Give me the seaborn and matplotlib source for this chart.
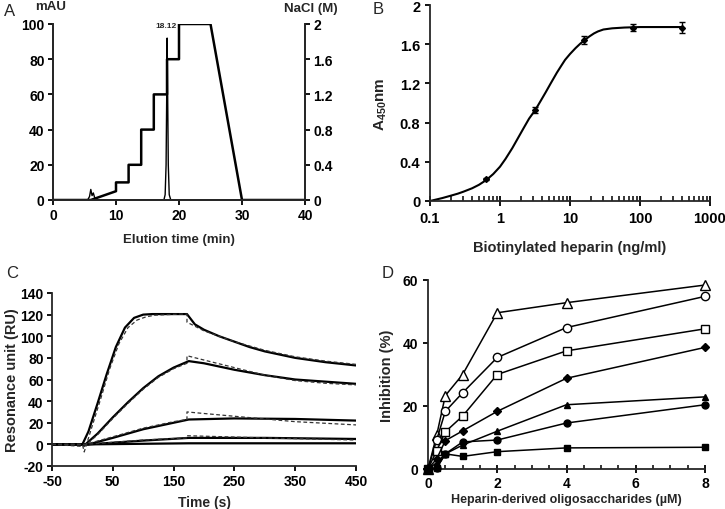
import matplotlib
matplotlib.use("Agg")
import matplotlib.pyplot as plt
import matplotlib.ticker as mticker
import numpy as np
import pandas as pd
import seaborn as sns

# ---------------- data ----------------
# A - heparin affinity chromatography
elution_time = [0, 5.5, 5.8, 6.0, 6.2, 6.4, 6.6, 6.9, 7.3, 17.6, 17.8, 17.95, 18.05, 18.12, 18.2, 18.3, 18.45, 18.7, 40]
absorbance = [0, 0, 2, 6, 2.5, 4, 1.5, 0.5, 0, 0, 3, 20, 60, 92, 60, 20, 3, 0, 0]
gradient_time = [0, 6, 10, 10, 12, 12, 14, 14, 16, 16, 18.1, 18.1, 20, 20, 25, 30, 40]
nacl_conc = [0, 0, 0.1, 0.2, 0.2, 0.4, 0.4, 0.8, 0.8, 1.2, 1.2, 1.6, 1.6, 2.0, 2.0, 0, 0]

# B - binding of biotinylated heparin
heparin_conc = [0.64, 3.2, 16, 80, 400]
a450 = [0.22, 0.93, 1.64, 1.77, 1.77]
a450_err = [0.01, 0.03, 0.04, 0.04, 0.06]
fit_conc = [0.1, 0.15, 0.2, 0.25, 0.3, 0.4, 0.5, 0.64, 0.8, 1.0, 1.2, 1.5, 1.8, 2.2, 2.6, 3.2, 3.8,
            4.5, 5.3, 6.5, 7.5, 8.5, 10, 12, 14, 16, 19, 22, 25, 30, 40, 60, 100, 200, 400]
fit_a450 = [0.0, 0.03, 0.055, 0.075, 0.095, 0.13, 0.165, 0.215, 0.275, 0.35, 0.43, 0.54, 0.64,
            0.75, 0.84, 0.93, 1.02, 1.11, 1.20, 1.31, 1.38, 1.44, 1.50, 1.56, 1.605, 1.64, 1.68,
            1.71, 1.73, 1.75, 1.762, 1.77, 1.775, 1.775, 1.775]

# C - SPR sensorgrams (solid = measured, dashed = fit)
t1 = [-50, 0, 10, 25, 40, 55, 70, 85, 100, 115, 130, 150, 172, 185, 200, 225, 250, 275, 300, 350, 400, 450]
ru1 = [0, 0, 12, 38, 65, 90, 108, 117, 120, 120.5, 120.5, 120.5, 120.5, 111, 106, 100, 95, 90, 86, 80, 76, 73]
t1_fit = [-50, 0, 3, 15, 30, 45, 60, 75, 90, 105, 120, 140, 160, 172, 172, 200, 250, 300, 350, 400, 450]
ru1_fit = [0, 0, -7, 15, 42, 70, 93, 108, 115, 118, 119.5, 120, 120.5, 120.5, 113, 105, 95, 87, 81, 77, 74]
t2 = [-50, 5, 25, 50, 75, 100, 125, 150, 175, 200, 250, 300, 350, 400, 450]
ru2 = [0, 0, 10, 25, 39, 52, 63, 71, 77, 75, 69, 64, 60, 58, 56]
t2_fit = [-50, 3, 25, 50, 75, 100, 125, 150, 172, 172, 200, 250, 300, 350, 400, 450]
ru2_fit = [0, -2, 9, 24, 38, 51, 62, 70, 75, 82, 78, 71, 64, 59, 56.5, 55]
t3 = [-50, 10, 50, 100, 150, 175, 250, 350, 450]
ru3 = [0, 0, 6, 14, 20, 23, 24, 23.5, 22]
t3_fit = [-50, 5, 50, 100, 150, 172, 172, 250, 350, 450]
ru3_fit = [0, 0, 7, 15, 21, 23, 30, 26, 21, 18]
t4 = [-50, 10, 100, 175, 300, 450]
ru4 = [0, 0, 3.5, 6, 6, 5]
t4_fit = [-50, 5, 100, 172, 172, 300, 450]
ru4_fit = [0, 0, 4, 6, 8, 6, 4]
t5 = [-50, 10, 175, 450]
ru5 = [0, 0, 1, 1]

# D - inhibition by heparin-derived oligosaccharides
oligo_conc = [0, 0.25, 0.5, 1, 2, 4, 8]
inh_open_triangle = [0, 10.7, 23.3, 30, 49.6, 52.8, 58.4]
inh_open_circle = [0, 9.2, 18.3, 24.2, 35.4, 44.9, 54.8]
inh_open_square = [0, 5.8, 11.8, 16.8, 30, 37.5, 44.5]
inh_diamond = [0, 3.2, 9, 12.1, 18.3, 28.8, 38.6]
inh_triangle = [0, 2, 4.8, 7.6, 12, 20.4, 22.9]
inh_circle = [0, 0.3, 4.8, 8.6, 9.2, 14.6, 20.4]
inh_square = [0, 0.3, 4.8, 4, 5.5, 6.7, 6.9]

# ---------------- style ----------------
sns.set_style("ticks")
plt.rcParams["font.family"] = ["Liberation Sans", "DejaVu Sans"]
plt.rcParams["font.weight"] = "bold"
plt.rcParams["axes.labelweight"] = "bold"
plt.rcParams["axes.unicode_minus"] = False
plt.rcParams["mathtext.fontset"] = "custom"
plt.rcParams["mathtext.rm"] = "Liberation Sans:bold"
plt.rcParams["mathtext.it"] = "Liberation Sans:bold"
plt.rcParams["mathtext.bf"] = "Liberation Sans:bold"
plt.rcParams["axes.linewidth"] = 1.3
plt.rcParams["xtick.major.width"] = 1.3
plt.rcParams["ytick.major.width"] = 1.3
plt.rcParams["xtick.minor.width"] = 1.1
plt.rcParams["xtick.color"] = "black"
plt.rcParams["ytick.color"] = "black"

W, H = 725, 510


def box(l, t, r, b):
    return [l / W, 1 - b / H, (r - l) / W, (b - t) / H]


def gfmt(v, pos):
    return "%g" % v


def bold_ticks(ax):
    for lab in ax.get_xticklabels() + ax.get_yticklabels():
        lab.set_fontweight("bold")


fig = plt.figure(figsize=(7.25, 5.1), dpi=100)

# ---------------- A ----------------
axA = fig.add_axes(box(53, 25, 305, 201))
sns.lineplot(x=elution_time, y=absorbance, ax=axA, color="black", lw=1.0,
             estimator=None, sort=False)
axA.set_xlim(0, 40)
axA.set_ylim(0, 100)
axA.set_xticks([0, 10, 20, 30, 40])
axA.set_yticks([0, 20, 40, 60, 80, 100])
axA.tick_params(labelsize=10, length=3.5, direction="out", pad=2.5)
axA.set_xlabel("Elution time (min)", fontsize=9.5, labelpad=8)
axA.set_ylabel("")
axA.text(17.9, 99, "18.12", fontsize=6, ha="center", va="center")
axA2 = axA.twinx()
sns.lineplot(x=gradient_time, y=nacl_conc, ax=axA2, color="black", lw=1.8,
             estimator=None, sort=False)
axA2.set_ylim(0, 2)
axA2.set_yticks([0, 0.4, 0.8, 1.2, 1.6, 2.0])
axA2.yaxis.set_major_formatter(mticker.FuncFormatter(gfmt))
axA2.tick_params(labelsize=10, length=3.5, direction="out", pad=2.5)
axA2.set_ylabel("")
for a in (axA, axA2):
    a.spines["top"].set_visible(False)
axA2.spines["right"].set_visible(True)
fig.text(51 / W, 1 - 7 / H, "mAU", fontsize=9.5, ha="center", va="center")
fig.text(311 / W, 1 - 9 / H, "NaCl (M)", fontsize=9.5, ha="center", va="center")

# ---------------- B ----------------
axB = fig.add_axes(box(430, 6, 710, 202))
sns.lineplot(x=fit_conc, y=fit_a450, ax=axB, color="black", lw=1.5,
             estimator=None, sort=False)
axB.errorbar(heparin_conc, a450, yerr=a450_err, fmt="D", ms=3, color="black",
             ecolor="black", elinewidth=1.0, capsize=2.5, capthick=1.0)
axB.set_xscale("log")
axB.set_xlim(0.1, 1000)
axB.set_ylim(0, 2)
axB.set_yticks([0, 0.4, 0.8, 1.2, 1.6, 2.0])
axB.yaxis.set_major_formatter(mticker.FuncFormatter(gfmt))
axB.xaxis.set_major_formatter(mticker.FuncFormatter(gfmt))
axB.xaxis.set_minor_locator(mticker.LogLocator(base=10, subs=np.arange(2, 10), numticks=20))
axB.xaxis.set_minor_formatter(mticker.NullFormatter())
axB.tick_params(axis="y", labelsize=10.5, length=3.5, direction="out")
axB.tick_params(axis="x", which="major", labelsize=10.5, length=7, direction="inout")
axB.tick_params(axis="x", which="minor", length=3.5, width=1.1, direction="in")
axB.set_xlabel("Biotinylated heparin (ng/ml)", fontsize=10.5, labelpad=11)
axB.set_ylabel("A$_{450}$nm", fontsize=11, labelpad=8)
sns.despine(ax=axB)

# ---------------- C ----------------
axC = fig.add_axes(box(52, 294, 356, 467))
for tx, ry in [(t1, ru1), (t2, ru2), (t3, ru3), (t4, ru4), (t5, ru5)]:
    sns.lineplot(x=tx, y=ry, ax=axC, color="black", lw=1.6,
                 estimator=None, sort=False)
for tx, ry in [(t1_fit, ru1_fit), (t2_fit, ru2_fit), (t3_fit, ru3_fit), (t4_fit, ru4_fit)]:
    sns.lineplot(x=tx, y=ry, ax=axC, color="#333333", lw=0.9,
                 linestyle=(0, (3, 2)), estimator=None, sort=False)
axC.set_xlim(-50, 450)
axC.set_ylim(-20, 140)
axC.set_xticks([-50, 50, 150, 250, 350, 450])
axC.set_yticks(range(-20, 141, 20))
axC.tick_params(labelsize=10, length=3.5, direction="out", pad=2.5)
axC.set_xlabel("Time (s)", fontsize=10, labelpad=5)
axC.set_ylabel("Resonance unit (RU)", fontsize=10.5, labelpad=1)
sns.despine(ax=axC)

# ---------------- D ----------------
axD = fig.add_axes(box(428, 281, 705, 470))
series_D = [inh_open_triangle, inh_open_circle, inh_open_square, inh_diamond,
            inh_triangle, inh_circle, inh_square]
marks_D = [("^", "white", 6.5), ("o", "white", 6), ("s", "white", 5.5), ("D", "black", 4.5),
           ("^", "black", 5), ("o", "black", 5), ("s", "black", 4.5)]
for vals, (mk, fc, ms) in zip(series_D, marks_D):
    sns.lineplot(x=oligo_conc, y=vals, ax=axD, color="black", lw=1.1,
                 marker=mk, markersize=ms, markerfacecolor=fc,
                 markeredgecolor="black", markeredgewidth=1.0,
                 estimator=None, sort=False, clip_on=False, zorder=3)
axD.set_xlim(0, 8)
axD.set_ylim(0, 60)
axD.set_xticks([0, 2, 4, 6, 8])
axD.xaxis.set_minor_locator(mticker.MultipleLocator(0.5))
axD.set_yticks([0, 20, 40, 60])
axD.tick_params(axis="y", labelsize=10, length=3.5, direction="out")
axD.tick_params(axis="x", which="major", labelsize=10, length=6, direction="inout", pad=2)
axD.tick_params(axis="x", which="minor", length=3, direction="in")
axD.set_xlabel("Heparin-derived oligosaccharides (\u00b5M)", fontsize=9, labelpad=2)
axD.set_ylabel("Inhibition (%)", fontsize=10.5, labelpad=6)
sns.despine(ax=axD)

for a in (axA, axA2, axB, axC, axD):
    bold_ticks(a)

# panel letters
for lab, px, py in [("A", 10, 11), ("B", 378, 10), ("C", 12, 274), ("D", 388, 273)]:
    fig.text(px / W, 1 - py / H, lab, fontsize=12, fontweight="normal",
             ha="center", va="center")

fig.savefig("out.png", dpi=100)
